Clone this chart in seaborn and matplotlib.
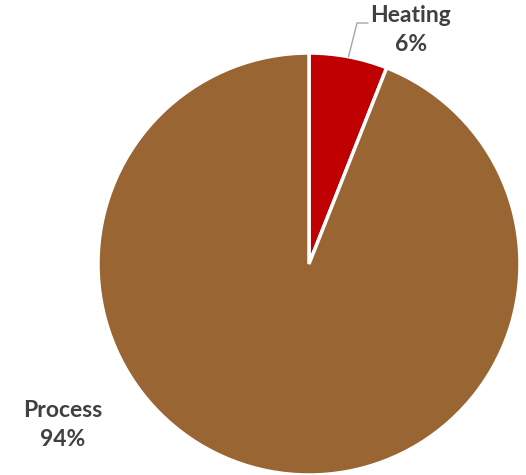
import numpy as np
import matplotlib.pyplot as plt
import seaborn as sns

# datos
labels = ["Heating", "Process"]
shares = [6, 94]
colors = ["#C00000", "#996633"]

sns.set_theme(style="white")
plt.rcParams['font.family'] = ['Lato', 'DejaVu Sans']

W, H = 526, 475
fig = plt.figure(figsize=(W / 100, H / 100), dpi=100)
ax = fig.add_axes([0, 0, 1, 1])

cx, cy, r = 309, 211, 211
ax.pie(shares, colors=colors, startangle=90, counterclock=False,
       center=(cx, cy), radius=r, frame=True,
       wedgeprops=dict(edgecolor="white", linewidth=2.5))
ax.set_xlim(0, W)
ax.set_ylim(0, H)
ax.set_aspect("equal")
ax.axis("off")

# etiqueta Heating con linea guia
mid = np.deg2rad(90 - shares[0] / sum(shares) * 360 / 2)
px, py = cx + r * np.cos(mid), cy + r * np.sin(mid)
ax.plot([px, 357, 368], [py, 452, 452], color="#A6A6A6", lw=1)
ax.text(411, 445, f"{labels[0]}\n{shares[0]}%", ha="center", va="center",
        fontsize=16.5, fontweight="bold", color="#404040", linespacing=1.42)

ax.text(63, 50, f"{labels[1]}\n{shares[1]}%", ha="center", va="center",
        fontsize=16.5, fontweight="bold", color="#404040", linespacing=1.42)

fig.savefig("out.png", dpi=100)
